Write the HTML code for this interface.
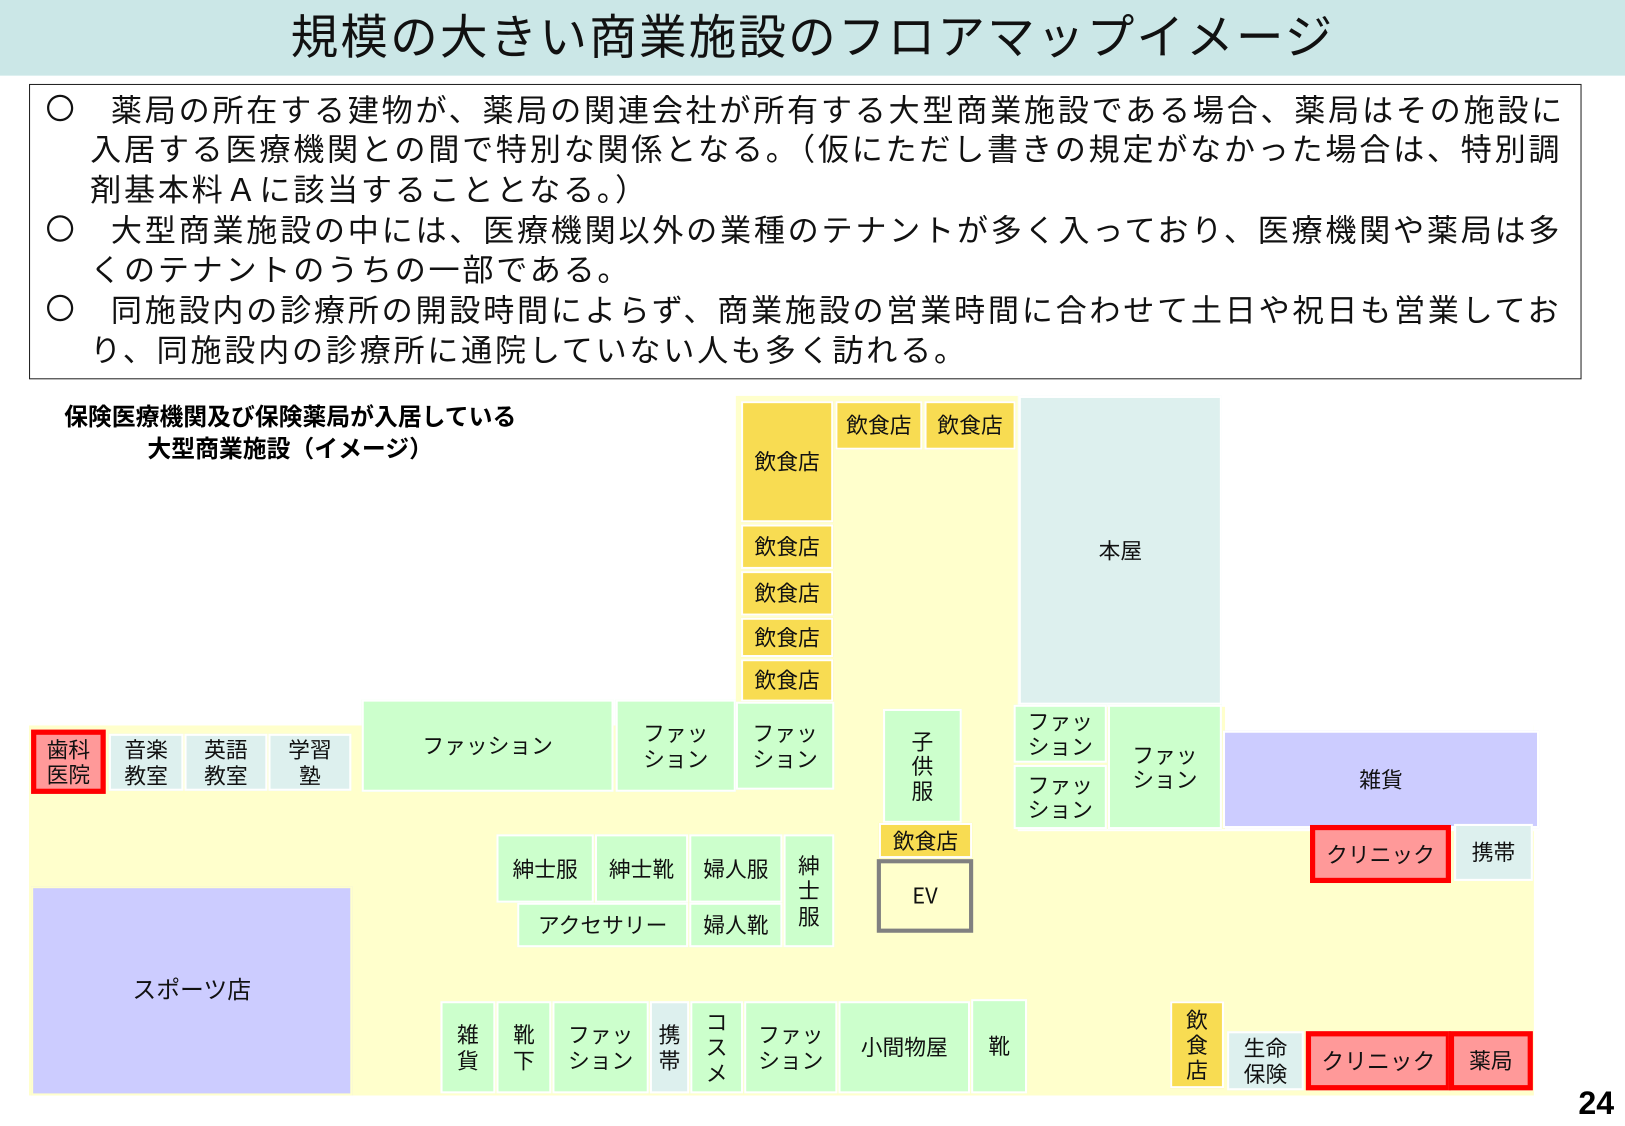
<!DOCTYPE html>
<html><head><meta charset="utf-8"><style>
html,body{margin:0;padding:0;background:#fff;}
body{width:1625px;height:1125px;overflow:hidden;position:relative;font-family:"Noto Sans CJK JP","Liberation Sans",sans-serif;}
#w{position:absolute;left:0;top:0;width:1568px;height:1086px;transform:scale(1.0364);transform-origin:0 0;}
.a{position:absolute;}
.b{position:absolute;box-sizing:border-box;display:flex;align-items:center;justify-content:center;text-align:center;line-height:1.15;font-size:21px;color:#111;border:2px solid #fff;}
.g{background:#ccffcc;}.y{background:#f8dc52;}.c{background:#ddf0ee;}.l{background:#ccccff;}
.r{background:#ff9999;border:5px solid #f00;}
.t{position:absolute;font-size:30px;letter-spacing:2.65px;white-space:nowrap;color:#111;line-height:39px;}
.o{position:absolute;font-size:28px;left:44px;color:#111;line-height:39px;}
</style></head><body><div id="w">
<div class="a" style="left:0;top:0;width:1568px;height:73px;background:#cbe7e7;"></div>
<div class="a" style="left:0;top:2px;width:1568px;text-align:center;font-size:46px;letter-spacing:2px;line-height:62px;color:#111;">規模の大きい商業施設のフロアマップイメージ</div>
<div class="a" style="left:28px;top:81px;width:1496px;height:283px;border:1.5px solid #222;"></div>
<div class="o" style="top:85px;">〇</div><div class="o" style="top:201px;">〇</div><div class="o" style="top:278px;">〇</div>
<div class="t" style="left:107px;top:85px;">薬局の所在する建物が、薬局の関連会社が所有する大型商業施設である場合、薬局はその施設に</div>
<div class="t" style="left:87px;top:123px;">入居する医療機関との間で特別な関係となる。（仮にただし書きの規定がなかった場合は、特別調</div>
<div class="t" style="left:87px;top:162px;">剤基本料Ａに該当することとなる。）</div>
<div class="t" style="left:107px;top:201px;">大型商業施設の中には、医療機関以外の業種のテナントが多く入っており、医療機関や薬局は多</div>
<div class="t" style="left:87px;top:239px;">くのテナントのうちの一部である。</div>
<div class="t" style="left:107px;top:278px;">同施設内の診療所の開設時間によらず、商業施設の営業時間に合わせて土日や祝日も営業してお</div>
<div class="t" style="left:87px;top:317px;">り、同施設内の診療所に通院していない人も多く訪れる。</div>
<div class="a" style="left:40px;top:385px;font-size:23px;font-weight:bold;line-height:31px;text-align:center;width:480px;">保険医療機関及び保険薬局が入居している<br>大型商業施設（イメージ）</div>
<div class="a" style="left:28px;top:700px;width:1452px;height:357px;background:#ffffcc;"></div>
<div class="a" style="left:710px;top:382px;width:272px;height:320px;background:#ffffcc;"></div>
<div class="a" style="left:982px;top:682px;width:498px;height:120px;background:#fff;"></div>
<div class="a" style="left:982px;top:682px;width:200px;height:118px;background:#ffffcc;"></div>
<div class="b r" style="left:30px;top:704px;width:72px;height:62px;">歯科<br>医院</div>
<div class="b c" style="left:105px;top:708px;width:72px;height:55px;">音楽<br>教室</div>
<div class="b c" style="left:178px;top:708px;width:80px;height:55px;">英語<br>教室</div>
<div class="b c" style="left:259px;top:708px;width:80px;height:55px;">学習<br>塾</div>
<div class="b g" style="left:349px;top:675px;width:243px;height:89px;">ファッション</div>
<div class="b g" style="left:594px;top:675px;width:116px;height:89px;">ファッ<br>ション</div>
<div class="b g" style="left:710px;top:677px;width:95px;height:85px;">ファッ<br>ション</div>
<div class="b y" style="left:715px;top:387px;width:89px;height:117px;">飲食店</div>
<div class="b y" style="left:715px;top:506px;width:89px;height:43px;">飲食店</div>
<div class="b y" style="left:715px;top:551px;width:89px;height:43px;">飲食店</div>
<div class="b y" style="left:715px;top:596px;width:89px;height:38px;">飲食店</div>
<div class="b y" style="left:715px;top:636px;width:89px;height:41px;">飲食店</div>
<div class="b y" style="left:806px;top:387px;width:84px;height:47px;">飲食店</div>
<div class="b y" style="left:892px;top:387px;width:88px;height:47px;">飲食店</div>
<div class="b c" style="left:983px;top:382px;width:196px;height:298px;">本屋</div>
<div class="b g" style="left:978px;top:680px;width:90px;height:56px;">ファッ<br>ション</div>
<div class="b g" style="left:978px;top:738px;width:90px;height:62px;">ファッ<br>ション</div>
<div class="b g" style="left:1069px;top:680px;width:110px;height:120px;">ファッ<br>ション</div>
<div class="b g" style="left:852px;top:684px;width:76px;height:110px;">子<br>供<br>服</div>
<div class="b y" style="left:848px;top:794px;width:90px;height:34px;">飲食店</div>
<div class="b" style="left:846px;top:829px;width:93px;height:71px;border:4px solid #808080;background:#ffffcc;">EV</div>
<div class="b l" style="left:1180px;top:705px;width:305px;height:94px;">雑貨</div>
<div class="b r" style="left:1264px;top:796px;width:136px;height:56px;">クリニック</div>
<div class="b c" style="left:1403px;top:795px;width:76px;height:55px;">携帯</div>
<div class="b g" style="left:479px;top:805px;width:94px;height:66px;">紳士服</div>
<div class="b g" style="left:574px;top:805px;width:90px;height:66px;">紳士靴</div>
<div class="b g" style="left:665px;top:805px;width:90px;height:66px;">婦人服</div>
<div class="b g" style="left:756px;top:805px;width:49px;height:109px;">紳<br>士<br>服</div>
<div class="b g" style="left:499px;top:871px;width:165px;height:43px;">アクセサリー</div>
<div class="b g" style="left:665px;top:871px;width:90px;height:43px;">婦人靴</div>
<div class="b l" style="left:30px;top:855px;width:310px;height:202px;border-color:#ffffcc;font-size:23px;padding-bottom:6px;">スポーツ店</div>
<div class="b g" style="left:425px;top:966px;width:53px;height:89px;">雑<br>貨</div>
<div class="b g" style="left:479px;top:966px;width:53px;height:89px;">靴<br>下</div>
<div class="b g" style="left:533px;top:966px;width:93px;height:89px;">ファッ<br>ション</div>
<div class="b c" style="left:627px;top:966px;width:38px;height:89px;">携<br>帯</div>
<div class="b g" style="left:666px;top:966px;width:51px;height:89px;">コ<br>ス<br>メ</div>
<div class="b g" style="left:718px;top:966px;width:90px;height:89px;">ファッ<br>ション</div>
<div class="b g" style="left:809px;top:966px;width:127px;height:89px;">小間物屋</div>
<div class="b g" style="left:937px;top:964px;width:54px;height:91px;">靴</div>
<div class="b y" style="left:1129px;top:966px;width:52px;height:84px;">飲<br>食<br>店</div>
<div class="b c" style="left:1184px;top:995px;width:74px;height:57px;">生命<br>保険</div>
<div class="b r" style="left:1260px;top:995px;width:140px;height:57px;font-size:22px;">クリニック</div>
<div class="b r" style="left:1398px;top:995px;width:81px;height:57px;">薬局</div>
<div class="a" style="left:1523px;top:1047px;font-size:31px;font-weight:bold;font-family:'Liberation Sans',sans-serif;">24</div>
</div></body></html>
